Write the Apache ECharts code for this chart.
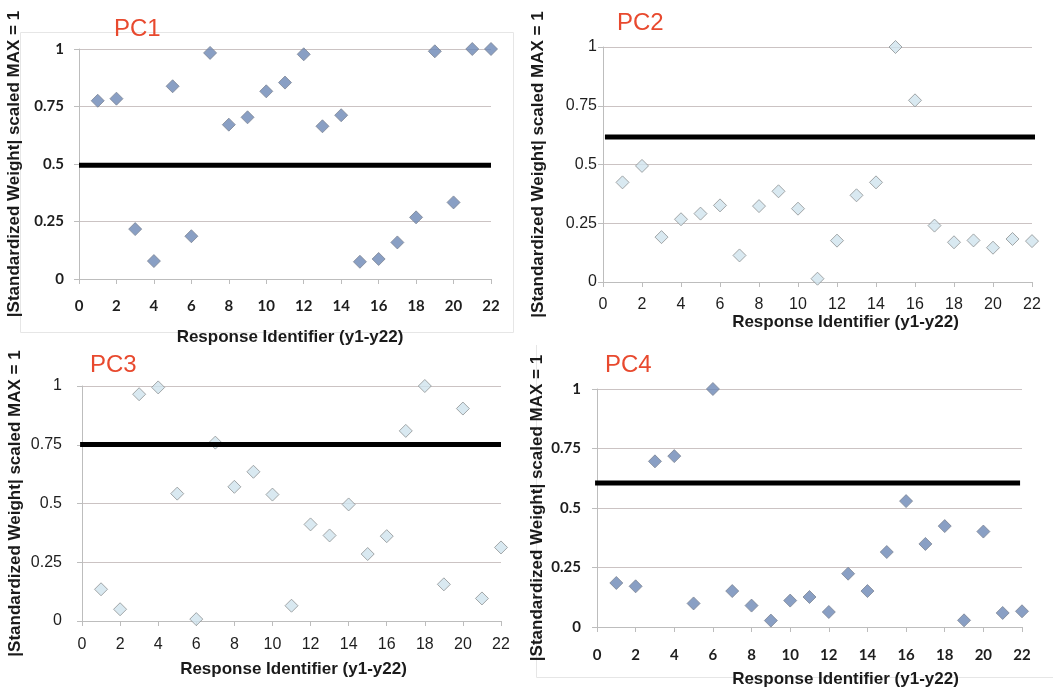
<!DOCTYPE html>
<html>
<head>
<meta charset="utf-8">
<script src="https://cdn.jsdelivr.net/npm/echarts@6/dist/echarts.min.js"></script>
<style>
html,body{margin:0;padding:0;background:#fff;}
#chart{width:1053px;height:692px;}
</style>
</head>
<body>
<div id="chart"></div>
<script>
// ---- data ----
const responseIds = [1,2,3,4,5,6,7,8,9,10,11,12,13,14,15,16,17,18,19,20,21,22];
const panelTitles = ["PC1","PC2","PC3","PC4"];
const pc1 = [0.775,0.784,0.217,0.078,0.838,0.186,0.983,0.671,0.703,0.816,0.854,0.977,0.664,0.712,0.075,0.087,0.159,0.268,0.990,0.333,1.000,1.000];
const pc2 = [0.424,0.494,0.191,0.267,0.291,0.326,0.113,0.323,0.386,0.312,0.014,0.176,0.369,0.424,1.000,0.773,0.240,0.169,0.177,0.146,0.183,0.174];
const pc3 = [0.135,0.050,0.965,0.994,0.542,0.008,0.759,0.571,0.635,0.538,0.065,0.411,0.364,0.496,0.285,0.361,0.809,1.000,0.156,0.904,0.096,0.313];
const pc4 = [0.185,0.171,0.696,0.718,0.099,1.000,0.151,0.090,0.027,0.111,0.126,0.063,0.224,0.151,0.315,0.529,0.349,0.424,0.028,0.401,0.059,0.066];
const thresholds = [0.495, 0.617, 0.751, 0.605];
const thresholdStartX = [0, 0.1, -0.1, -0.1];
const thresholdEndX = [22, 22.4, 22, 21.9];
const yTickLabels = ["0","0.25","0.5","0.75","1"];
const xAxisTitle = "Response Identifier (y1-y22)";
const yAxisTitle = "|Standardized Weight| scaled MAX = 1";

const series = [pc1, pc2, pc3, pc4];

// ---- layout / style ----
const grids = [
  {left:79, top:49, width:412, height:230},
  {left:603, top:47, width:429, height:235},
  {left:82, top:386, width:419, height:235},
  {left:597, top:389, width:425, height:238}
];
const titlePos = [[114,17],[617,11],[90,353],[605,353]];
const yNameGap = [56, 56, 58, 51];
const xNameGap = [50, 29, 40, 44];
const xNamePad = [[0,0,0,10],[0,0,0,56],[0,0,0,4],[0,0,0,72]];
const xLabelMargin = [20, 15, 16, 21];
const yLabelMargin = [15, 6, 20, 16];
const darkPanels = [true, false, false, true];

const tickFont = (i) => darkPanels[i]
  ? {fontFamily:'Lato', fontWeight:'bold', fontSize:15, color:'#1e1e1e'}
  : {fontFamily:'Liberation Sans', fontWeight:'normal', fontSize:16, color:'#1e1e1e'};

const option = {
  backgroundColor:'#ffffff',
  animation:false,
  title: panelTitles.map((t,i)=>({
    text:t, left:titlePos[i][0], top:titlePos[i][1], padding:0,
    textStyle:{fontFamily:'Liberation Sans', fontWeight:'normal', fontSize:24, color:'#e8492e'}
  })),
  grid: grids.map(g=>Object.assign({containLabel:false, outerBoundsMode:'none'}, g)),
  xAxis: grids.map((g,i)=>({
    type:'value', gridIndex:i, min:0, max:22, interval:2,
    name:xAxisTitle, nameLocation:'middle', nameGap:xNameGap[i],
    nameTextStyle:{fontFamily:'Liberation Sans', fontWeight:'bold', fontSize:17, color:'#1a1a1a', padding:xNamePad[i]},
    axisLine:{show:true, onZero:false, lineStyle:{color:'#bdbdbd', width:1}},
    axisTick:{show:true, length:5, lineStyle:{color:'#bdbdbd'}},
    axisLabel:Object.assign({margin:xLabelMargin[i]}, tickFont(i)),
    splitLine:{show:false}
  })),
  yAxis: grids.map((g,i)=>({
    type:'value', gridIndex:i, min:0, max:1, interval:0.25,
    name:yAxisTitle, nameLocation:'middle', nameGap:yNameGap[i], nameRotate:90,
    nameTextStyle:{fontFamily:'Liberation Sans', fontWeight:'bold', fontSize:17, color:'#1a1a1a'},
    axisLine:{show:true, lineStyle:{color:'#bdbdbd', width:1}},
    axisTick:{show:true, length:5, lineStyle:{color:'#bdbdbd'}},
    axisLabel:Object.assign({margin:yLabelMargin[i], formatter:(v)=>yTickLabels[Math.round(v/0.25)]}, tickFont(i)),
    splitLine:{show:true, lineStyle:{color:'#cbc3c3', width:1}}
  })),
  series: []
};

series.forEach((vals,i)=>{
  option.series.push({
    type:'scatter', xAxisIndex:i, yAxisIndex:i, z:2,
    symbol:'diamond', symbolSize:13,
    data: responseIds.map((x,k)=>[x, vals[k]]),
    itemStyle: darkPanels[i]
      ? {color:'#6c87b5', borderColor:'#7d8594', borderWidth:1}
      : {color:'#cfe4ee', borderColor:'#8f9294', borderWidth:1}
  });
  option.series.push({
    type:'line', xAxisIndex:i, yAxisIndex:i, z:3, clip:false,
    symbol:'none', silent:true,
    lineStyle:{color:'#000000', width:5},
    data:[[thresholdStartX[i], thresholds[i]],[thresholdEndX[i], thresholds[i]]]
  });
});

option.graphic = [
  {type:'rect', shape:{x:20.5, y:32.5, width:493, height:300}, style:{fill:'none', stroke:'#e6e6e6', lineWidth:1}, z:-1},
  {type:'polyline', shape:{points:[[536.5,345],[536.5,677.5],[1053,677.5]]}, style:{fill:'none', stroke:'#e6e6e6', lineWidth:1}, z:-1}
];

const chart = echarts.init(document.getElementById('chart'), null, {renderer:'canvas'});
chart.setOption(option);
</script>
</body>
</html>
